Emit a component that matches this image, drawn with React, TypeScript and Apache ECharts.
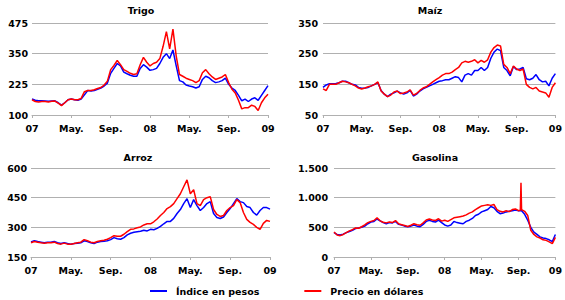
import React, { useEffect, useRef } from "react";
import * as echarts from "echarts";

// Shared x grid: months since Jan 2007 (0 = Jan 07, 24 = Jan 09), three points per month
const months: number[] = Array.from({ length: 73 }, (_, i) => i / 3);
const xTickLabels = ["07", "May.", "Sep.", "08", "May.", "Sep.", "09"];

const trigoPesos = [
  165, 160, 158, 158, 157, 156, 157, 158, 150, 140, 150, 162,
  165, 162, 160, 165, 182, 200, 198, 200, 205, 210, 218, 230,
  270, 290, 310, 300, 275, 268, 262, 258, 258, 290, 305, 295,
  282, 285, 290, 310, 335, 350, 330, 365, 300, 240, 235, 222,
  218, 215, 210, 215, 245, 258, 252, 240, 232, 235, 240, 250,
  225, 210, 200, 180, 158, 165, 155, 165, 170, 160, 180, 200,
  220,
];
const trigoDolares = [
  162, 155, 153, 155, 155, 153, 156, 157, 148, 138, 150, 162,
  165, 162, 162, 168, 195, 200, 200, 203, 208, 212, 222, 238,
  285, 302, 322, 305, 285, 278, 270, 265, 268, 305, 335, 315,
  300, 310, 315, 330, 380, 440, 370, 450, 340, 265, 258, 250,
  245, 240, 232, 240, 272, 285, 268, 255, 245, 250, 255, 265,
  232, 205, 190, 160, 125, 130, 130, 140, 135, 118, 150, 170,
  185,
];

const maizPesos = [
  140, 148, 152, 152, 153, 155, 160, 160, 155, 150, 148, 140,
  137, 138, 140, 145, 150, 155, 130, 118, 110, 118, 122, 128,
  122, 118, 122, 130, 112, 118, 128, 135, 140, 145, 150, 155,
  160, 162, 165, 165, 170, 175, 172, 158, 180, 185, 180, 195,
  195, 205, 195, 205, 235, 255, 265, 260, 205, 195, 178, 208,
  198, 200, 205, 168, 165, 170, 182, 165, 158, 160, 145, 170,
  185,
];
const maizDolares = [
  135, 130, 150, 150, 150, 155, 160, 158, 155, 150, 145, 138,
  135, 138, 142, 145, 150, 158, 128, 118, 110, 115, 125, 128,
  120, 122, 125, 132, 115, 120, 130, 138, 142, 150, 158, 165,
  172, 180, 185, 185, 190, 198, 205, 220, 225, 222, 225, 230,
  220, 228, 222, 230, 255, 270, 278, 275, 215, 205, 185, 210,
  200, 195, 200, 150, 140, 135, 140, 128, 125, 122, 108, 140,
  155,
];

const arrozPesos = [
  226, 232, 228, 225, 222, 225, 225, 228, 222, 218, 222, 218,
  215, 218, 220, 222, 232, 228, 222, 218, 225, 228, 230, 232,
  238, 248, 242, 240, 248, 262, 270, 275, 278, 280, 285, 282,
  290, 288, 295, 305, 318, 330, 330, 345, 370, 390, 420, 445,
  400, 440, 410, 385, 400, 420, 430, 370, 350, 345, 352, 375,
  395, 420, 445, 430, 425, 405, 400, 375, 362, 385, 400, 400,
  392,
];
const arrozDolares = [
  222, 228, 225, 222, 220, 222, 222, 225, 218, 215, 220, 215,
  215, 218, 222, 225, 238, 232, 225, 222, 228, 232, 235, 240,
  248, 258, 255, 255, 265, 278, 290, 292, 298, 302, 312, 318,
  318, 328, 342, 360, 375, 395, 405, 420, 445, 470, 505, 540,
  470, 490, 420, 410, 440, 450, 455, 390, 365, 355, 360, 385,
  400, 410, 440, 425, 375, 340, 325, 315, 300, 290, 320, 335,
  330,
];

const gasolinaPesos = [
  410, 380, 370, 385, 410, 430, 450, 480, 490, 500, 520, 560,
  590, 600, 640, 610, 580, 560, 580, 575, 600, 550, 540, 520,
  510, 520, 540, 520, 510, 550, 600, 620, 600, 590, 620, 580,
  540, 520, 540, 600, 580, 570, 560, 600, 620, 650, 700, 720,
  760, 780, 800, 850, 830, 770, 730, 740, 760, 770, 780, 790,
  780, 780, 720, 620, 500, 420, 380, 340, 320, 310, 290, 260,
  380,
];
const gasolinaDolares = [
  420, 370, 360, 380, 410, 440, 460, 490, 485, 510, 540, 580,
  600, 615, 660, 610, 585, 575, 590, 580, 615, 560, 545, 530,
  515, 535, 560, 545, 535, 575, 625, 640, 625, 615, 645, 605,
  620, 600, 630, 660, 670, 680, 690, 710, 740, 760, 800, 830,
  860, 870, 880, 870, 885, 800, 770, 760, 780, 765, 800, 810,
  780, 800, 770, 700, 450, 380, 340, 320, 290, 280, 255, 225,
  330,
];
// Short-lived price spike in September 2008 (month, value)
const gasolinaPico: [number, number][] = [
  [20.2, 790],
  [20.27, 1250],
];

const seriesNames = ["Índice en pesos", "Precio en dólares"];
const panelTitles = ["Trigo", "Maíz", "Arroz", "Gasolina"];

const pair = (vals: number[]) => months.map((m, i) => [m, vals[i]]);

const FONT = "DejaVu Sans";
const BLUE = "#0000ff";
const RED = "#ff0000";
const GRID_COLOR = "#b0b0b0";

function fmtNum(v: number) {
  if (v >= 1000) {
    return `${Math.floor(v / 1000)}.${String(v % 1000).padStart(3, "0")}`;
  }
  return String(v);
}

export default function App() {
  const ref = useRef<HTMLDivElement>(null);

  useEffect(() => {
    if (!ref.current) return;
    const chart = echarts.init(ref.current, undefined, { renderer: "svg" });

    const grids = [
      { left: 32, top: 23, width: 236, height: 92 },
      { left: 323, top: 23, width: 238, height: 92 },
      { left: 31, top: 168, width: 239, height: 89 },
      { left: 334, top: 168, width: 225, height: 89 },
    ];
    const yRanges = [
      { min: 100, max: 475, interval: 125, margin: 4 },
      { min: 50, max: 350, interval: 100, margin: 5 },
      { min: 150, max: 600, interval: 150, margin: 4 },
      { min: 0, max: 1500, interval: 500, margin: 6 },
    ];

    const labelStyle = {
      fontFamily: FONT,
      fontWeight: "bold" as const,
      fontSize: 9.5,
      color: "#000",
    };

    const xAxes = grids.map((_, i) => ({
      type: "value" as const,
      gridIndex: i,
      min: 0,
      max: 24,
      interval: 4,
      axisLine: { show: true, lineStyle: { color: GRID_COLOR, width: 1 } },
      axisTick: { show: true, length: 3, lineStyle: { color: GRID_COLOR } },
      splitLine: { show: false },
      axisLabel: {
        ...labelStyle,
        margin: 8,
        formatter: (v: number) => xTickLabels[Math.round(v / 4)] ?? "",
      },
    }));

    const yAxes = yRanges.map((r, i) => ({
      type: "value" as const,
      gridIndex: i,
      min: r.min,
      max: r.max,
      interval: r.interval,
      axisLine: { show: false },
      axisTick: { show: false },
      splitLine: { show: true, lineStyle: { color: GRID_COLOR, width: 1 } },
      axisLabel: { ...labelStyle, margin: r.margin, formatter: fmtNum },
    }));

    const gasRed = [...pair(gasolinaDolares), ...gasolinaPico].sort(
      (a, b) => a[0] - b[0]
    );

    const panels = [
      [pair(trigoPesos), pair(trigoDolares)],
      [pair(maizPesos), pair(maizDolares)],
      [pair(arrozPesos), pair(arrozDolares)],
      [pair(gasolinaPesos), gasRed],
    ];

    const series: any[] = [];
    panels.forEach((p, i) => {
      series.push({
        name: seriesNames[0],
        type: "line",
        xAxisIndex: i,
        yAxisIndex: i,
        data: p[0],
        showSymbol: false,
        symbol: "none",
        lineStyle: { color: BLUE, width: 1.5 },
        itemStyle: { color: BLUE },
        z: 2,
      });
      series.push({
        name: seriesNames[1],
        type: "line",
        xAxisIndex: i,
        yAxisIndex: i,
        data: p[1],
        showSymbol: false,
        symbol: "none",
        lineStyle: { color: RED, width: 1.5 },
        itemStyle: { color: RED },
        z: 3,
      });
    });

    const titlePos = [
      { x: 141, y: 10 },
      { x: 430, y: 10 },
      { x: 138, y: 157 },
      { x: 435, y: 157 },
    ];

    chart.setOption({
      animation: false,
      backgroundColor: "#fff",
      grid: grids,
      xAxis: xAxes,
      yAxis: yAxes,
      series,
      legend: {
        data: seriesNames,
        left: 145,
        top: 281,
        icon: "rect",
        itemWidth: 17,
        itemHeight: 2,
        itemGap: 45,
        textStyle: {
          fontFamily: FONT,
          fontWeight: 700,
          fontSize: 9.5,
          color: "#000",
          padding: [0, 0, 0, 4],
        },
      },
      graphic: titlePos.map((p, i) => ({
        type: "text",
        x: p.x,
        y: p.y,
        style: {
          text: panelTitles[i],
          fontFamily: FONT,
          fontWeight: "bold",
          fontSize: 9.5,
          fill: "#000",
          textAlign: "center",
          textVerticalAlign: "middle",
        },
      })),
    });

    return () => chart.dispose();
  }, []);

  return (
    <div
      ref={ref}
      style={{
        position: "fixed",
        left: 0,
        top: 0,
        width: 565,
        height: 300,
        background: "#fff",
      }}
    />
  );
}
